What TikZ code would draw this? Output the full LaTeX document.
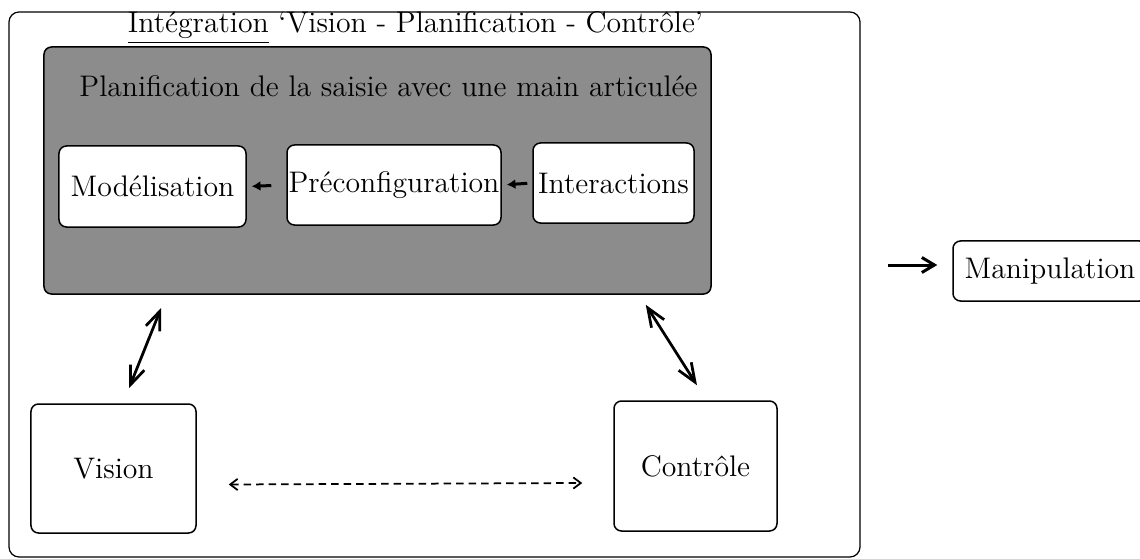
\documentclass[tikz,border=0pt]{standalone}
\usetikzlibrary{arrows.meta}
\begin{document}
\begin{tikzpicture}[x=0.4pt, y=-0.4pt,
    txt/.style={font=\fontsize{11.9}{14}\selectfont},
    module/.style={draw, rounded corners=3pt, fill=white, line width=0.6pt, inner sep=0pt, txt},
    link/.style={line width=1.1pt, {Straight Barb[length=7.5pt,width=6pt]}-{Straight Barb[length=7.5pt,width=6pt]}},
    dashlink/.style={dashed, dash pattern=on 3pt off 2pt, line width=0.7pt, {Straight Barb[length=3pt,width=4.5pt]}-{Straight Barb[length=3pt,width=4.5pt]}},
    pfeil/.style={line width=1.2pt, -{Latex[length=3.5pt,width=4pt]}, shorten <=2pt, shorten >=2pt}]
    \useasboundingbox (0,0) rectangle (1140,559);

    % outer frame and planning block
    \node[draw, rounded corners=4pt, line width=0.5pt, minimum width=340.4pt, minimum height=218pt] (frame) at (434.5,284.5) {};
    \node[txt, anchor=base] (title) at (415.5,33) {\underline{Intégration} `Vision - Planification - Contrôle'};
    \node[draw, rounded corners=3pt, fill=black!45, line width=0.6pt, minimum width=266.8pt, minimum height=98.8pt] (plan) at (377.5,170.5) {};
    \node[txt, anchor=base] (plantitle) at (388.5,97) {Planification de la saisie avec une main articulée};

    % modules
    \node[module, minimum width=74.8pt, minimum height=32.4pt] (model) at (152.5,186.5) {Modélisation};
    \node[module, minimum width=85.6pt, minimum height=32pt] (precon) at (394,185) {Préconfiguration};
    \node[module, minimum width=64.4pt, minimum height=32pt] (inter) at (613.5,183) {Interactions};
    \node[module, minimum width=66pt, minimum height=51.6pt] (vision) at (113.5,468.5) {Vision};
    \node[module, minimum width=65.2pt, minimum height=52pt] (ctrl) at (695.5,466) {Contrôle};
    \node[module, minimum width=77.6pt, minimum height=24pt] (manip) at (1050,271) {Manipulation};

    \draw[pfeil, shorten <=6pt] (precon.west) -- (model.east);
    \draw[pfeil] (inter.west) -- (precon.east);
    \draw[link] ([shift={(118,13)}]plan.south west) -- ([shift={(15.5,-15)}]vision.north);
    \draw[link] ([shift={(-66,10)}]plan.south east) -- ([shift={(1.5,-15)}]ctrl.north);
    \draw[dashlink] ([shift={(32,16)}]vision.east) -- ([shift={(-31,17)}]ctrl.west);

    \coordinate (feed) at (888,265);
    \draw[line width=1.2pt, -{Straight Barb[length=5pt,width=6pt]}, shorten >=6pt] (feed) -- (feed -| manip.west);
\end{tikzpicture}
\end{document}
